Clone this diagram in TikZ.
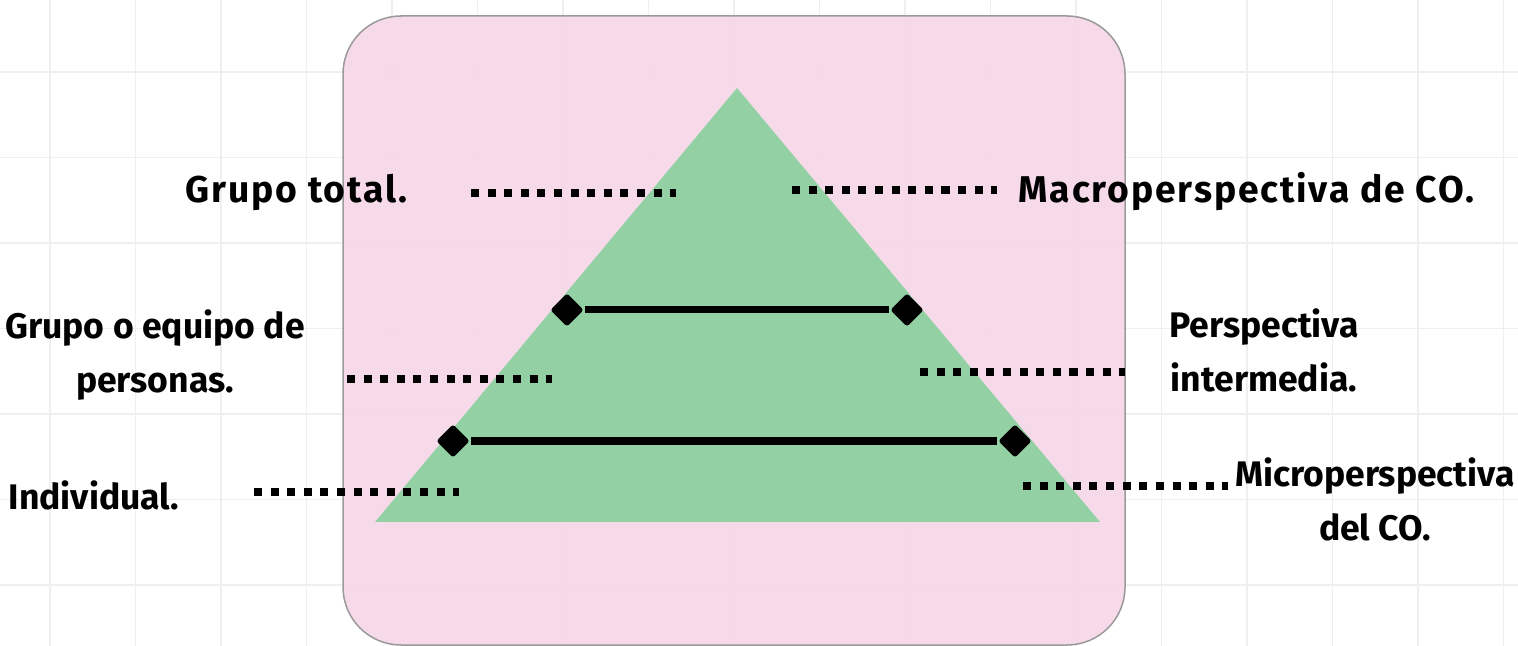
\documentclass[tikz,border=0pt]{standalone}
\usepackage{fontspec}
\setmainfont{Fira Sans}
\usetikzlibrary{shapes.geometric}
\definecolor{bgpink}{HTML}{F6D7E7}
\definecolor{trigreen}{HTML}{93D1A5}
\definecolor{gridgray}{HTML}{EFEFEF}
\definecolor{boxedge}{HTML}{9A9A9A}
\tikzset{
  lbl/.style={font=\fontsize{10.1}{15.4}\selectfont\bfseries, align=center, inner sep=0pt, text=black},
  lblwide/.style={lbl, font=\fontsize{10.6}{15.4}\selectfont\bfseries\addfontfeature{LetterSpace=5}},
  leader/.style={line width=0.08cm, dash pattern=on 0.08cm off 0.086cm, line cap=butt},
  endmark/.style={shape=diamond, fill=black, inner sep=0pt, minimum size=0.34cm, rounded corners=0.03cm},
  bar/.style={line width=0.07cm}
}
\begin{document}
\begin{tikzpicture}[x=0.01cm, y=-0.01cm]
\useasboundingbox (0,0) rectangle (1518,646);
\fill[white] (0,0) rectangle (1518,646);
% grid
\foreach \gx in {0,...,17} {
  \draw[gridgray, line width=0.018cm] ({50+85.5*\gx},0) -- ({50+85.5*\gx},646);
}
\foreach \gy in {0,...,7} {
  \draw[gridgray, line width=0.018cm] (0,{-13.5+85.5*\gy}) -- (1518,{-13.5+85.5*\gy});
}
% pink panel
\draw[boxedge, line width=0.015cm, fill=bgpink, fill opacity=0.9, rounded corners=0.58cm] (343,16) rectangle (1125,645);
% pyramid
\fill[trigreen] (737,88) -- (1100,522) -- (375,522) -- cycle;
% bars
\node[endmark] (u1) at (567,310) {};
\node[endmark] (u2) at (907,310) {};
\node[endmark] (l1) at (453,441) {};
\node[endmark] (l2) at (1015,441) {};
\draw[bar] (u1) -- (u2);
\draw[bar] (l1) -- (l2);
% labels
\node[lblwide, anchor=west] (gt) at (185,192) {Grupo total.};
\node[lblwide, anchor=west] (macro) at (1018,192) {Macroperspectiva de CO.};
\node[lbl] (ge) at (155,355) {Grupo o equipo de\\personas.};
\node[lbl] (pi) at (1264,350) {Perspectiva\\intermedia.};
\node[lbl, anchor=west] (ind) at (8,495) {Individual.};
\node[lbl] (mic) at (1375,499) {Microperspectiva\\del CO.};
% leader lines
\coordinate (a1) at (471,193); \coordinate (a2) at (676,193);
\coordinate (b1) at (792,190); \coordinate (b2) at (997,190);
\coordinate (c1) at (347,379); \coordinate (c2) at (552,379);
\coordinate (d1) at (920,372); \coordinate (d2) at (1125,372);
\coordinate (e1) at (254,492); \coordinate (e2) at (459,492);
\coordinate (f1) at (1023,486); \coordinate (f2) at (1228,486);
\draw[leader] (a1) -- (a2);
\draw[leader] (b1) -- (b2);
\draw[leader] (c1) -- (c2);
\draw[leader] (d1) -- (d2);
\draw[leader] (e1) -- (e2);
\draw[leader] (f1) -- (f2);
\end{tikzpicture}
\end{document}
